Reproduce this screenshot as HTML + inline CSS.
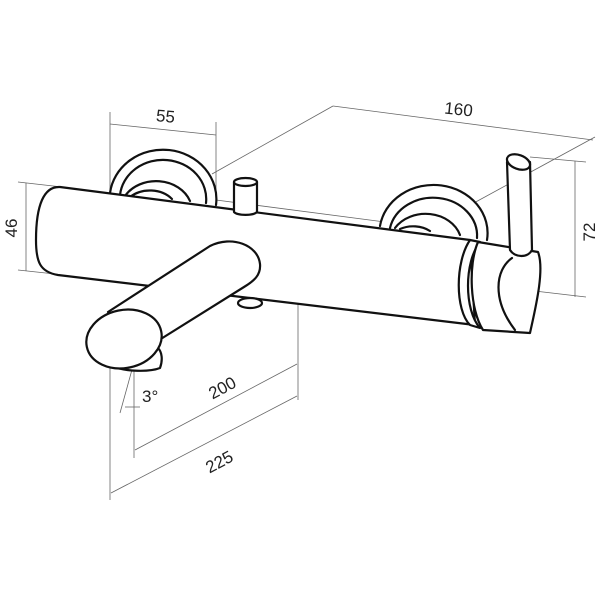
<!DOCTYPE html>
<html><head><style>body{margin:0;background:#fff}svg{display:block}</style></head><body>
<svg width="600" height="600" viewBox="0 0 600 600" xmlns="http://www.w3.org/2000/svg">
<g stroke="#666" stroke-width="0.8" fill="none">
<line x1="110" y1="112" x2="110" y2="198"/>
<line x1="216" y1="122" x2="216" y2="205"/>
<line x1="110" y1="124" x2="216" y2="135"/>
<line x1="18" y1="182" x2="62" y2="187"/>
<line x1="18" y1="270" x2="55" y2="274"/>
<line x1="26" y1="183" x2="26" y2="271"/>
<line x1="333" y1="106" x2="593" y2="140"/>
<line x1="333" y1="106" x2="212" y2="174"/>
<line x1="595" y1="137" x2="472" y2="204"/>
<line x1="216" y1="200" x2="385" y2="222"/>
<line x1="530" y1="157" x2="586" y2="162"/>
<line x1="526" y1="290" x2="586" y2="297"/>
<line x1="575" y1="161" x2="575" y2="297"/>
<line x1="298" y1="290" x2="298" y2="400"/>
<line x1="134" y1="365" x2="134" y2="458"/>
<line x1="110" y1="365" x2="110" y2="500"/>
<line x1="135" y1="450" x2="297" y2="364"/>
<line x1="111" y1="493" x2="297" y2="396"/>
<line x1="133" y1="366" x2="120" y2="413"/>
<line x1="125" y1="407" x2="140" y2="407"/>
</g>
<g fill="#222" font-family="Liberation Sans, sans-serif" font-size="17">
<text x="165" y="122" text-anchor="middle" transform="rotate(5 165 122)">55</text>
<text x="458" y="115" text-anchor="middle" transform="rotate(6 458 115)">160</text>
<text transform="translate(17 228) rotate(-90)" text-anchor="middle">46</text>
<text transform="translate(595 232) rotate(-90)" text-anchor="middle">72</text>
<text transform="translate(225 393) rotate(-28)" text-anchor="middle">200</text>
<text transform="translate(222 467) rotate(-28)" text-anchor="middle">225</text>
<text x="142" y="402">3°</text>
</g>
<g stroke="#111" stroke-width="2.2" fill="#fff" stroke-linejoin="round" stroke-linecap="round">
<path d="M110 193 A52 48 0 0 1 216 205"/>
<path d="M120 195 A42 38 0 0 1 206 203"/>
<path d="M125 196 A36 30 0 0 1 190 201"/>
<path d="M130 197 A28 22 0 0 1 172 199"/>
<path d="M380 226 A54 48 0 0 1 487 240"/>
<path d="M390 228 A44 38 0 0 1 477 238"/>
<path d="M395 228 A36 30 0 0 1 460 235"/>
<path d="M400 229 A25 18 0 0 1 430 231"/>
<path d="M60 187 L470 240 L475 325 L58 275 C40 272 36 262 36 240 C36 205 44 186 60 187 Z"/>
<path d="M234 182 L234 212 A12 4 0 0 0 257 212 L257 182"/>
<ellipse cx="245.5" cy="182" rx="11.5" ry="4"/>
<path d="M470 240 C455 262 455 310 470 325 L480 328 C464 310 464 262 480 242 Z"/>
<path d="M478 242 L538 252 C545 270 535 310 530 333 L483 330 C470 310 468 265 478 242 Z"/>
<path d="M512 258 C495 270 492 300 515 330" fill="none"/>
<path d="M507 162 L510 250 C515 258 528 258 532 250 L530 162 Z"/>
<ellipse cx="518.5" cy="162" rx="12" ry="7" transform="rotate(20 518.5 162)"/>
<ellipse cx="250" cy="303" rx="12" ry="5"/>
<path d="M112 366 C125 372 150 372 160 368 C163 360 162 352 158 348 L130 360 Z"/>
<path d="M108 312 L210 246 C232 235 258 245 260 264 C261 275 254 281 244 287 L156 342 Z"/>
<ellipse cx="124" cy="339" rx="38" ry="29" transform="rotate(-12 124 339)"/>
</g>
</svg>
</body></html>
